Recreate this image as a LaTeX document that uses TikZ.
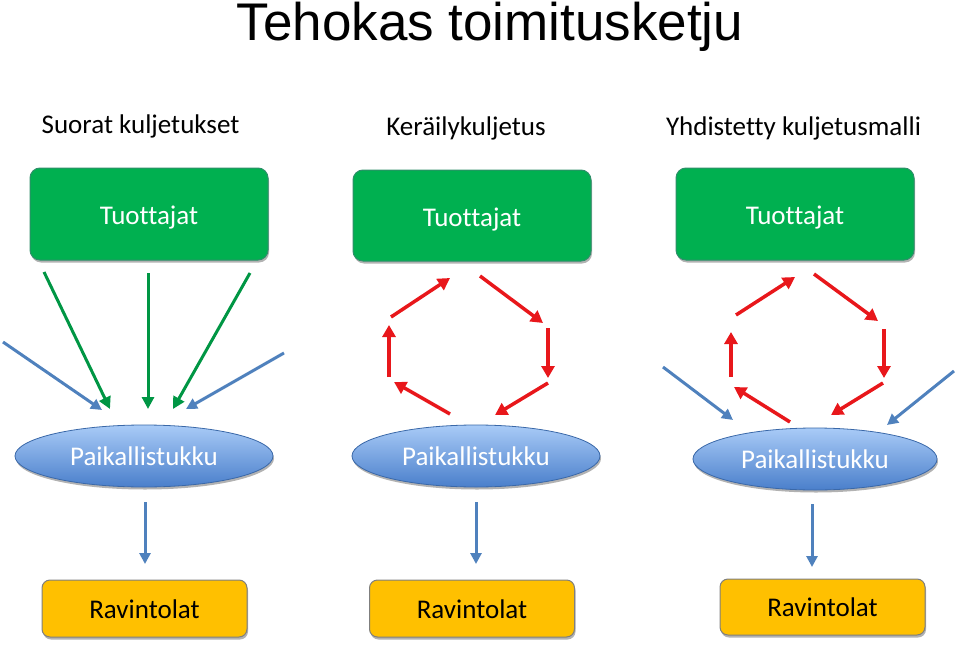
\documentclass[tikz,border=0pt]{standalone}
\usepackage{fontspec}
\setmainfont{Carlito}[Ligatures={NoCommon}]
\newfontfamily\titlefont{Liberation Sans}
\usetikzlibrary{shapes.geometric,arrows.meta,shadows}
\definecolor{pgreen}{HTML}{00B050}
\definecolor{pgreenedge}{HTML}{2F8F6A}
\definecolor{pred}{HTML}{E8171B}
\definecolor{pblue}{HTML}{4F81BD}
\definecolor{pbluetop}{HTML}{A9CBF7}
\definecolor{pbluebot}{HTML}{4A7FCB}
\definecolor{pblueedge}{HTML}{3A68A8}
\definecolor{porange}{HTML}{FFC000}
\definecolor{pgray}{HTML}{7F7F7F}
\begin{document}
\begin{tikzpicture}[x=1pt,y=-1pt,
  txt/.style={font=\fontsize{27}{32}\selectfont, text height=17.4pt, text depth=1pt},
  prodbox/.style={txt, text height=21pt, text depth=0pt, text=white, draw=pgreenedge, line width=1pt, fill=pgreen, rounded corners=10pt,
    minimum width=238pt, minimum height=92pt, inner sep=0pt,
    drop shadow={shadow xshift=1pt, shadow yshift=-2.5pt, opacity=0.3, fill=black}},
  wholesale/.style={txt, text height=18pt, text depth=0pt, text=white, ellipse, draw=pblueedge, line width=0.8pt, top color=pbluetop, bottom color=pbluebot,
    minimum height=62pt, inner sep=0pt,
    drop shadow={shadow xshift=1pt, shadow yshift=-2.5pt, opacity=0.3, fill=black}},
  restbox/.style={txt, text height=19pt, text depth=0pt, text=black, draw=pgray, line width=1pt, fill=porange, rounded corners=8pt,
    minimum width=205pt, minimum height=57pt, inner sep=0pt,
    drop shadow={shadow xshift=1pt, shadow yshift=-2.5pt, opacity=0.3, fill=black}},
  subtitle/.style={txt, text=black, inner sep=0pt},
  garrow/.style={draw=pgreen!85!black, line width=3pt, -{Triangle[length=12pt,width=12pt]}},
  rarrow/.style={draw=pred, line width=3.5pt, -{Triangle[length=12pt,width=13pt]}},
  barrow/.style={draw=pblue, line width=3pt, -{Triangle[length=11pt,width=11pt]}}
]
\useasboundingbox (0,0) rectangle (959,645);

% title and subtitles
\node[inner sep=0pt, anchor=base, font=\titlefont\fontsize{53}{60}\selectfont] (title) at (490,40) {Tehokas toimitusketju};
\node[subtitle] (s1) at (140.5,125.5) {Suorat kuljetukset};
\node[subtitle] (s2) at (466,127) {Keräilykuljetus};
\node[subtitle] (s3) at (793.5,127) {Yhdistetty kuljetusmalli};

% producers
\node[prodbox] (g1) at (149,214) {Tuottajat};
\node[prodbox, minimum height=91pt] (g2) at (472,215.5) {Tuottajat};
\node[prodbox] (g3) at (795,214) {Tuottajat};

% wholesalers
\node[wholesale, minimum width=258pt] (e1) at (144,456) {Paikallistukku};
\node[wholesale, minimum width=248pt] (e2) at (476,456) {Paikallistukku};
\node[wholesale, minimum width=244pt] (e3) at (815,459) {Paikallistukku};

% restaurants
\node[restbox] (r1) at (144.5,608.5) {Ravintolat};
\node[restbox] (r2) at (472,608.5) {Ravintolat};
\node[restbox, minimum height=56pt] (r3) at (822.5,607) {Ravintolat};

% column 1 arrow end points
\coordinate (c1gls) at (44,272);  \coordinate (c1gle) at (110,409);
\coordinate (c1gms) at (148,273); \coordinate (c1gme) at (148,409);
\coordinate (c1grs) at (250,273); \coordinate (c1gre) at (173,409);
\coordinate (c1bls) at (3,342);   \coordinate (c1ble) at (102,410);
\coordinate (c1brs) at (284,353); \coordinate (c1bre) at (186,409);
\coordinate (c1ds) at (145,502);  \coordinate (c1de) at (145,564);

\draw[garrow] (c1gls) -- (c1gle);
\draw[garrow] (c1gms) -- (c1gme);
\draw[garrow] (c1grs) -- (c1gre);
\draw[barrow] (c1bls) -- (c1ble);
\draw[barrow] (c1brs) -- (c1bre);
\draw[barrow] (c1ds) -- (c1de);

% column 2 hexagon
\coordinate (c2a) at (391,317); \coordinate (c2b) at (450,278);
\coordinate (c2c) at (480,276); \coordinate (c2d) at (543,323);
\coordinate (c2e) at (548,328); \coordinate (c2f) at (548,378);
\coordinate (c2g) at (548,383); \coordinate (c2h) at (495,415);
\coordinate (c2i) at (450,414); \coordinate (c2j) at (394,382);
\coordinate (c2k) at (389,377); \coordinate (c2l) at (389,325);
\coordinate (c2ds) at (476,502); \coordinate (c2de) at (476,564);

\draw[rarrow] (c2a) -- (c2b);
\draw[rarrow] (c2c) -- (c2d);
\draw[rarrow] (c2e) -- (c2f);
\draw[rarrow] (c2g) -- (c2h);
\draw[rarrow] (c2i) -- (c2j);
\draw[rarrow] (c2k) -- (c2l);
\draw[barrow] (c2ds) -- (c2de);

% column 3 hexagon and side arrows
\coordinate (c3a) at (736,315); \coordinate (c3b) at (795,277);
\coordinate (c3c) at (814,274); \coordinate (c3d) at (878,321);
\coordinate (c3e) at (884,329); \coordinate (c3f) at (884,378);
\coordinate (c3g) at (883,383); \coordinate (c3h) at (831,415);
\coordinate (c3i) at (790,422); \coordinate (c3j) at (734,387);
\coordinate (c3k) at (731,377); \coordinate (c3l) at (731,332);
\coordinate (c3bls) at (663,367); \coordinate (c3ble) at (733,420);
\coordinate (c3brs) at (954,371); \coordinate (c3bre) at (887,425);
\coordinate (c3ds) at (812,504); \coordinate (c3de) at (812,567);

\draw[rarrow] (c3a) -- (c3b);
\draw[rarrow] (c3c) -- (c3d);
\draw[rarrow] (c3e) -- (c3f);
\draw[rarrow] (c3g) -- (c3h);
\draw[rarrow] (c3i) -- (c3j);
\draw[rarrow] (c3k) -- (c3l);
\draw[barrow] (c3bls) -- (c3ble);
\draw[barrow] (c3brs) -- (c3bre);
\draw[barrow] (c3ds) -- (c3de);
\end{tikzpicture}
\end{document}
